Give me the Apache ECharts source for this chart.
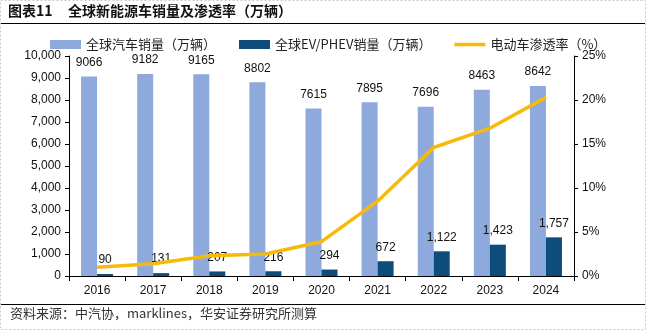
<!DOCTYPE html>
<html>
<head>
<meta charset="utf-8">
<script src="https://cdn.jsdelivr.net/npm/echarts@6/dist/echarts.min.js"></script>
<style>
html, body { margin: 0; padding: 0; background: #fff; }
#chart { width: 646px; height: 330px; }
</style>
</head>
<body>
<div id="chart"></div>
<script>
const years = ['2016', '2017', '2018', '2019', '2020', '2021', '2022', '2023', '2024'];
const totalSales = [9066, 9182, 9165, 8802, 7615, 7895, 7696, 8463, 8642];
const evSales = [90, 131, 207, 216, 294, 672, 1122, 1423, 1757];
const penetration = [1.0, 1.4, 2.3, 2.5, 3.9, 8.5, 14.6, 16.8, 20.3];

const font = 'Liberation Sans, Arial, sans-serif';
const cjk = 'Noto Sans CJK SC, sans-serif';

function withComma(v) {
	return String(v).replace(/\B(?=(\d{3})+(?!\d))/g, ',');
}

const chart = echarts.init(document.getElementById('chart'));

chart.setOption({
	animation: false,
	backgroundColor: '#fff',
	graphic: [
		{ type: 'rect', shape: { x: 0.5, y: 0.5, width: 645, height: 329 },
			style: { fill: 'none', stroke: '#c8c8c8', lineDash: [2, 2] } },
		{ type: 'text', left: 8, top: 4,
			style: { text: '图表11', font: 'bold 14px ' + cjk, fill: '#111' } },
		{ type: 'text', left: 68, top: 4,
			style: { text: '全球新能源车销量及渗透率（万辆）', font: 'bold 14px ' + cjk, fill: '#111' } },
		{ type: 'line', shape: { x1: 1, y1: 23.5, x2: 645, y2: 23.5 }, style: { stroke: '#000', lineWidth: 1.2 } },
		{ type: 'line', shape: { x1: 1, y1: 304.5, x2: 645, y2: 304.5 }, style: { stroke: '#000', lineWidth: 1.2 } },
		{ type: 'text', left: 10, top: 307,
			style: { text: '资料来源：中汽协，marklines，华安证券研究所测算', font: '13px ' + cjk, fill: '#333' } }
	],
	legend: {
		top: 33,
		left: 45,
		itemWidth: 31,
		itemHeight: 9,
		itemGap: 23,
		textStyle: { fontFamily: cjk, fontSize: 13, color: '#222' },
		data: [
			{ name: '全球汽车销量（万辆）', icon: 'rect' },
			{ name: '全球EV/PHEV销量（万辆）', icon: 'rect' },
			{ name: '电动车渗透率（%）', icon: 'path://M0,0H31V3.5H0Z' }
		]
	},
	grid: { left: 69, right: 72, top: 56, bottom: 54 },
	xAxis: {
		type: 'category',
		data: years,
		axisLine: { lineStyle: { color: '#000' } },
		axisTick: { show: true, alignWithLabel: false, length: 5, lineStyle: { color: '#000' } },
		axisLabel: { color: '#111', fontFamily: font, fontSize: 12, margin: 9 }
	},
	yAxis: [
		{
			type: 'value', min: 0, max: 10000, interval: 1000,
			splitLine: { show: false },
			axisLine: { show: true, lineStyle: { color: '#000' } },
			axisTick: { show: true, length: 4, lineStyle: { color: '#000' } },
			axisLabel: { color: '#111', fontFamily: font, fontSize: 12, formatter: v => withComma(v) }
		},
		{
			type: 'value', min: 0, max: 25, interval: 5,
			splitLine: { show: false },
			axisLine: { show: true, lineStyle: { color: '#000' } },
			axisTick: { show: true, length: 4, lineStyle: { color: '#000' } },
			axisLabel: { color: '#111', fontFamily: font, fontSize: 12, formatter: '{value}%' }
		}
	],
	series: [
		{
			name: '全球汽车销量（万辆）',
			type: 'bar',
			data: totalSales,
			barWidth: 16,
			barGap: '0%',
			itemStyle: { color: '#8EA9DB' },
			label: { show: true, position: 'top', distance: 8, color: '#111', fontFamily: font, fontSize: 12 }
		},
		{
			name: '全球EV/PHEV销量（万辆）',
			type: 'bar',
			data: evSales,
			barWidth: 16,
			barGap: '0%',
			itemStyle: { color: '#0E4D7B' },
			label: { show: true, position: 'top', distance: 8, color: '#111', fontFamily: font, fontSize: 12,
				formatter: p => withComma(p.value) }
		},
		{
			name: '电动车渗透率（%）',
			type: 'line',
			yAxisIndex: 1,
			data: penetration,
			symbol: 'none',
			z: 5,
			lineStyle: { color: '#F7BA0B', width: 3.5 },
			itemStyle: { color: '#F7BA0B' }
		}
	]
});
</script>
</body>
</html>
